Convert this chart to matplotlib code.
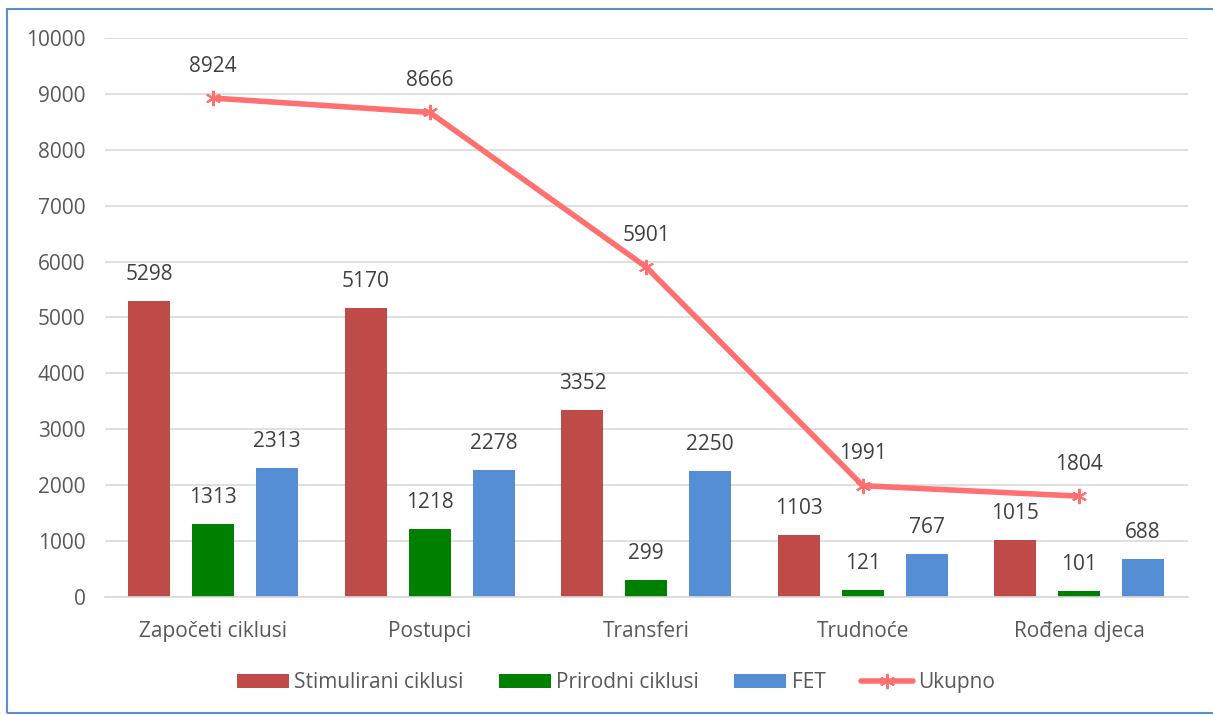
import matplotlib.pyplot as plt
import matplotlib.patches as patches
import numpy as np

categories = ['Započeti ciklusi', 'Postupci', 'Transferi', 'Trudnoće', 'Rođena djeca']
stimulirani = [5298, 5170, 3352, 1103, 1015]
prirodni = [1313, 1218, 299, 121, 101]
fet = [2313, 2278, 2250, 767, 688]
ukupno = [8924, 8666, 5901, 1991, 1804]

plt.rcParams['font.family'] = ['Open Sans', 'DejaVu Sans']

fig = plt.figure(figsize=(12.13, 7.15), dpi=100)
ax = fig.add_axes([0.0866, 0.165, 0.8924, 0.782])

# chart border
fig.patches.append(patches.Rectangle((0.006, 0.003), 1.2, 0.985, transform=fig.transFigure,
                                     fill=False, edgecolor='#5b8fd0', linewidth=1.5))

x = np.arange(len(categories))
w = 0.194
off = 0.295
txt = '#404040'
fs = 15

handles = []
series = [(stimulirani, -off, '#be4b48', 'Stimulirani ciklusi'),
          (prirodni, 0, '#008000', 'Prirodni ciklusi'),
          (fet, off, '#558ed5', 'FET')]
for vals, dx, col, lab in series:
    b = ax.bar(x + dx, vals, width=w, color=col, label=lab, zorder=2)
    handles.append(b)
    for xi, v in zip(x + dx, vals):
        ax.annotate(str(v), (xi, v), xytext=(0, 19), textcoords='offset points',
                    ha='center', va='center', fontsize=fs, color=txt)

ln, = ax.plot(x, ukupno, color='#ff7070', linewidth=4, marker=(6, 2, 0), markersize=11,
              markeredgewidth=1.5, label='Ukupno', zorder=3, solid_capstyle='round')
handles.append(ln)
for xi, v in zip(x, ukupno):
    ax.annotate(str(v), (xi, v), xytext=(0, 23), textcoords='offset points',
                ha='center', va='center', fontsize=fs, color=txt)

ax.set_xlim(-0.5, 4.5)
ax.set_ylim(0, 10000)
ax.set_yticks(np.arange(0, 10001, 1000))
ax.yaxis.grid(True, color='#d9d9d9', linewidth=1.2, zorder=0)
ax.set_axisbelow(True)
for s in ['top', 'right', 'left']:
    ax.spines[s].set_visible(False)
ax.spines['bottom'].set_color('#d9d9d9')
ax.spines['bottom'].set_linewidth(1.2)
ax.set_xticks(x)
ax.set_xticklabels(categories)
ax.tick_params(axis='both', length=0, labelsize=fs, labelcolor='#595959')
ax.tick_params(axis='y', pad=14)
ax.tick_params(axis='x', pad=17)

ax.legend(handles=handles, labels=[h.get_label() for h in handles],
          loc='center', bbox_to_anchor=(0.472, -0.153), ncol=4, frameon=False,
          fontsize=fs, labelcolor='#595959', handlelength=2.5, handleheight=0.67,
          handletextpad=0.25, columnspacing=1.7)

fig.savefig('out.png', dpi=100)
